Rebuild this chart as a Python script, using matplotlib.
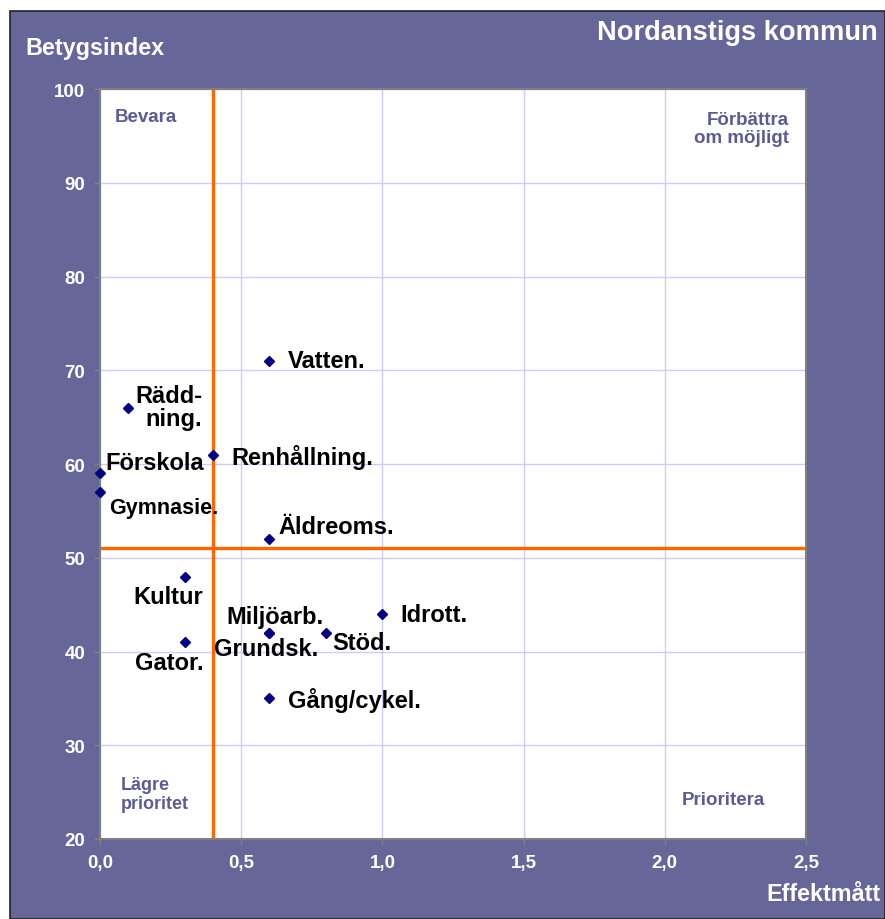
import matplotlib
matplotlib.use("Agg")
import matplotlib.pyplot as plt
from matplotlib.patches import Rectangle

plt.rcParams['font.family'] = ['Liberation Sans', 'DejaVu Sans']
plt.rcParams['font.weight'] = 'bold'

# Data
names = ['Vatten.', 'Rädd-\nning.', 'Renhållning.', 'Förskola', 'Gymnasie.',
         'Äldreoms.', 'Kultur', 'Miljöarb.', 'Grundsk.', 'Stöd.', 'Idrott.',
         'Gator.', 'Gång/cykel.']
effekt = [0.6, 0.1, 0.4, 0.0, 0.0, 0.6, 0.3, 0.6, 0.6, 0.8, 1.0, 0.3, 0.6]
index = [71, 66, 61, 59, 57, 52, 48, 42, 42, 42, 44, 41, 35]
x_split = 0.4
y_split = 51
x_ticks = [0.0, 0.5, 1.0, 1.5, 2.0, 2.5]
y_ticks = [20, 30, 40, 50, 60, 70, 80, 90, 100]

# label placement (offset in pixels, alignment, size)
label_pos = {
    'Vatten.': (18, 0, 'left', 17),
    'Rädd-\nning.': (74, 1, 'right', 17),
    'Renhållning.': (18, -2, 'left', 17),
    'Förskola': (5, 11, 'left', 17),
    'Gymnasie.': (9, -15, 'left', 15.5),
    'Äldreoms.': (9, 13, 'left', 17),
    'Kultur': (-16, -20, 'center', 17),
    'Miljöarb.': (5, 16, 'center', 17),
    'Grundsk.': (-3, -16, 'center', 17),
    'Stöd.': (6, -10, 'left', 17),
    'Idrott.': (18, -1, 'left', 17),
    'Gator.': (-15, -20, 'center', 17),
    'Gång/cykel.': (19, -1, 'left', 17),
}

purple = '#666699'
W, H = 885, 920
fig = plt.figure(figsize=(W / 100, H / 100), dpi=100, facecolor='white')
fig.patches.append(Rectangle((10 / W, 0), 1 - 10 / W, 1 - 12 / H, transform=fig.transFigure,
                             facecolor=purple, edgecolor='#222222', linewidth=1.2, zorder=-5))

ax = fig.add_axes([100 / W, 80 / H, 706 / W, 750 / H])
ax.set_facecolor('white')
ax.set_xlim(0, 2.5)
ax.set_ylim(20, 100)
ax.set_xticks(x_ticks)
ax.set_yticks(y_ticks)
ax.set_xticklabels([f'{v:.1f}'.replace('.', ',') for v in x_ticks])
ax.grid(True, color='#ccccff', linewidth=1)
ax.set_axisbelow(True)
ax.tick_params(colors='#808080', labelcolor='white', labelsize=13.5, length=4, width=1)
ax.tick_params(axis='y', pad=6.5)
ax.tick_params(axis='x', pad=6.5)
for t in ax.get_xticklabels() + ax.get_yticklabels():
    t.set_fontweight('bold')
for s in ax.spines.values():
    s.set_color('#808080')
    s.set_linewidth(1.5)

ax.axvline(x_split, color='#ff6600', linewidth=2.4, zorder=2)
ax.axhline(y_split, color='#ff6600', linewidth=2.4, zorder=2)

ax.plot(effekt, index, linestyle='none', marker='D', markersize=5,
        color='#000080', zorder=3, clip_on=False)

for n, xv, yv in zip(names, effekt, index):
    dx, dy, ha, fs = label_pos[n]
    ax.annotate(n, (xv, yv), xytext=(dx, dy), textcoords='offset pixels',
                ha=ha, va='center', fontsize=fs, fontweight='bold', color='black',
                multialignment='right' if ha == 'right' else 'left', linespacing=1.0)

qcol = '#5c5c94'
ax.text(0.021, 0.963, 'Bevara', transform=ax.transAxes, ha='left', va='center',
        fontsize=13.5, fontweight='bold', color=qcol)
ax.text(0.976, 0.947, 'Förbättra\nom möjligt', transform=ax.transAxes, ha='right', va='center',
        fontsize=13.5, fontweight='bold', color=qcol, multialignment='right', linespacing=1.05)
ax.text(0.030, 0.060, 'Lägre\nprioritet', transform=ax.transAxes, ha='left', va='center',
        fontsize=13, fontweight='bold', color=qcol, linespacing=1.1)
ax.text(0.942, 0.053, 'Prioritera', transform=ax.transAxes, ha='right', va='center',
        fontsize=13.5, fontweight='bold', color=qcol)

fig.text(25 / W, 1 - 48 / H, 'Betygsindex', ha='left', va='center',
         fontsize=16.8, fontweight='bold', color='white')
fig.text(878 / W, 1 - 33 / H, 'Nordanstigs kommun', ha='right', va='center',
         fontsize=19.6, fontweight='bold', color='white')
fig.text(880 / W, 1 - 895 / H, 'Effektmått', ha='right', va='center',
         fontsize=16.8, fontweight='bold', color='white')

fig.savefig('out.png', dpi=100, facecolor=fig.get_facecolor())
